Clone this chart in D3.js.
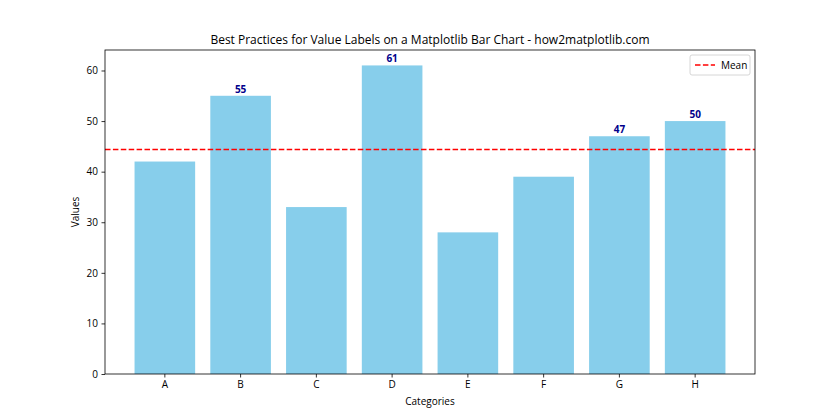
<!DOCTYPE html>
<html>
  <head>
    <script src="https://cdn.jsdelivr.net/npm/d3@7"></script>
    <style>
      body { margin: 0; background: #fff; }
      svg text { font-family: "Open Sans", "Noto Sans", sans-serif; fill: #000; }
    </style>
  </head>
  <body>
    <svg id="chart" width="840" height="420"></svg>
    <script>
      const categories = ["A", "B", "C", "D", "E", "F", "G", "H"];
      const values = [42, 55, 33, 61, 28, 39, 47, 50];
      const yTicks = [0, 10, 20, 30, 40, 50, 60];

      const margin = {left: 105, right: 85, top: 50, bottom: 46};
      const width = 840 - margin.left - margin.right;
      const height = 420 - margin.top - margin.bottom;

      const mean = d3.mean(values);

      const svg = d3.select("#chart");
      const g = svg.append("g").attr("transform", `translate(${margin.left},${margin.top})`);

      const x = d3.scaleBand().domain(categories).range([0, width])
        .paddingInner(0.2).paddingOuter(0.39);
      const y = d3.scaleLinear().domain([0, d3.max(values) * 1.05]).range([height, 0]);

      // bars
      g.selectAll("rect.bar")
        .data(categories)
        .join("rect")
        .classed("bar", true)
        .attr("x", (d) => x(d))
        .attr("width", x.bandwidth())
        .attr("y", (d, i) => y(values[i]))
        .attr("height", (d, i) => height - y(values[i]))
        .attr("fill", "#87CEEB");

      // value labels only above mean
      g.selectAll("text.vlabel")
        .data(categories.filter((d, i) => values[i] > mean))
        .join("text")
        .classed("vlabel", true)
        .attr("x", (d) => x(d) + x.bandwidth() / 2)
        .attr("y", (d) => y(values[categories.indexOf(d)]) - 3)
        .attr("text-anchor", "middle")
        .style("font-size", "10px")
        .style("font-weight", "bold")
        .style("fill", "#00008B")
        .text((d) => values[categories.indexOf(d)]);

      // mean line
      g.append("line")
        .attr("x1", 0).attr("x2", width)
        .attr("y1", y(mean)).attr("y2", y(mean))
        .attr("stroke", "red")
        .attr("stroke-width", 1.5)
        .attr("stroke-dasharray", "5.5,2.4");

      // axes
      const xAxis = g.append("g")
        .attr("transform", `translate(0,${height})`)
        .call(d3.axisBottom(x).tickSize(3.5).tickPadding(3.5).tickSizeOuter(0));
      const yAxis = g.append("g")
        .call(d3.axisLeft(y).tickValues(yTicks).tickSize(3.5).tickPadding(3.5).tickSizeOuter(0));
      [xAxis, yAxis].forEach((a) => {
        a.selectAll("text").style("font-size", "10px").attr("fill", "#000");
        a.selectAll("line").attr("stroke", "#000").attr("stroke-width", 0.8);
        a.select(".domain").remove();
      });

      // frame
      g.append("rect")
        .attr("width", width).attr("height", height)
        .attr("fill", "none").attr("stroke", "#000").attr("stroke-width", 0.8);

      // title and labels
      svg.append("text")
        .attr("x", margin.left + width / 2).attr("y", 44)
        .attr("text-anchor", "middle")
        .style("font-size", "12px")
        .text("Best Practices for Value Labels on a Matplotlib Bar Chart - how2matplotlib.com");
      svg.append("text")
        .attr("x", margin.left + width / 2).attr("y", 405)
        .attr("text-anchor", "middle")
        .style("font-size", "10px")
        .text("Categories");
      svg.append("text")
        .attr("transform", `translate(79,${margin.top + height / 2}) rotate(-90)`)
        .attr("text-anchor", "middle")
        .style("font-size", "10px")
        .text("Values");

      // legend
      const lg = g.append("g").attr("transform", `translate(${width - 65},5)`);
      lg.append("rect")
        .attr("width", 60).attr("height", 20).attr("rx", 2)
        .attr("fill", "#fff").attr("stroke", "#ccc").attr("stroke-width", 0.8);
      lg.append("line")
        .attr("x1", 5).attr("x2", 25).attr("y1", 10).attr("y2", 10)
        .attr("stroke", "red").attr("stroke-width", 1.5)
        .attr("stroke-dasharray", "5.5,2.4");
      lg.append("text")
        .attr("x", 31).attr("y", 14)
        .style("font-size", "10px")
        .text("Mean");
    </script>
  </body>
</html>
